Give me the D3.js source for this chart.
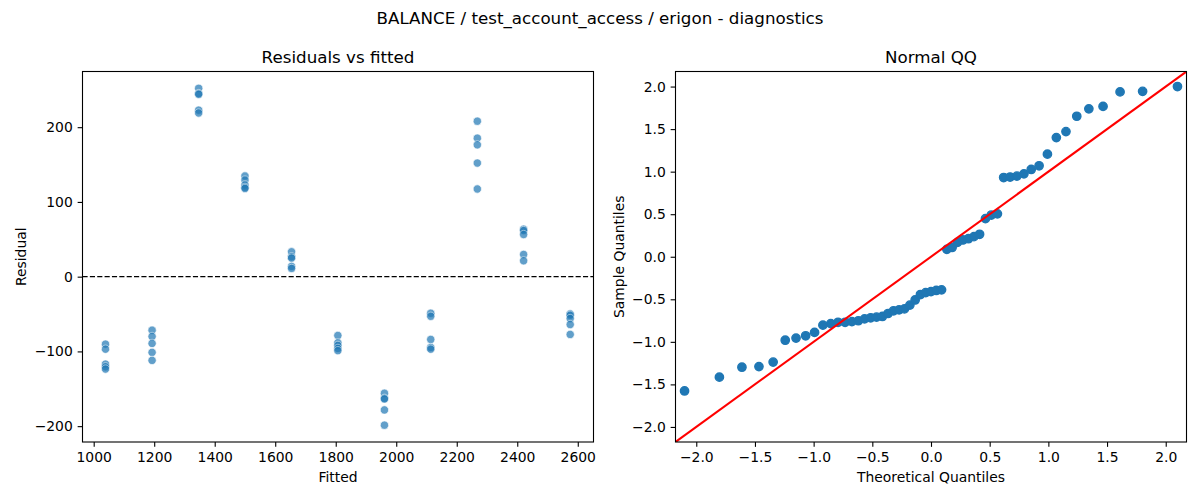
<!DOCTYPE html>
<html lang="en">
<head>
<meta charset="utf-8">
<title>BALANCE / test_account_access / erigon - diagnostics</title>
<script src="https://cdn.jsdelivr.net/npm/d3@7"></script>
<style>
  body { margin: 0; background: #fff; }
  svg { font-family: "DejaVu Sans", sans-serif; }
</style>
</head>
<body>
<svg width="1200" height="500"></svg>
<script>
// residuals vs fitted, 5 points per fitted level
var fitted = [
  1039, 1039, 1039, 1039, 1039,
  1193, 1193, 1193, 1193, 1193,
  1347, 1347, 1347, 1347, 1347,
  1500, 1500, 1500, 1500, 1500,
  1654, 1654, 1654, 1654, 1654,
  1807, 1807, 1807, 1807, 1807,
  1961, 1961, 1961, 1961, 1961,
  2114, 2114, 2114, 2114, 2114,
  2268, 2268, 2268, 2268, 2268,
  2421, 2421, 2421, 2421, 2421,
  2575, 2575, 2575, 2575, 2575
];
var residual = [
  -90.3, -97, -117, -120.5, -123.6,
  -71.6, -80, -89.3, -101.3, -112,
  252, 245, 244, 222.7, 219,
  134.7, 129.3, 122.7, 119.5, 118,
  33.3, 26.7, 24.8, 13.7, 11,
  -78.7, -88.5, -92, -96, -99,
  -156, -162.7, -163.6, -178.3, -198.7,
  -49, -53, -84, -94.7, -97,
  208, 185.3, 176.4, 152, 117.3,
  63.5, 61.7, 56.4, 29.7, 21.3,
  -49.9, -51.6, -56, -64, -77.3
];
var fittedTicks = [1000, 1200, 1400, 1600, 1800, 2000, 2200, 2400, 2600];
var residualTicks = [-200, -100, 0, 100, 200];

// normal QQ
var theoretical = [
  -2.100, -1.803, -1.611, -1.466, -1.345, -1.242, -1.150, -1.068, -0.992, -0.921,
  -0.854, -0.792, -0.732, -0.674, -0.619, -0.566, -0.514, -0.464, -0.414, -0.366,
  -0.319, -0.272, -0.226, -0.180, -0.135, -0.090, -0.045, 0, 0.045, 0.090,
  0.135, 0.180, 0.226, 0.272, 0.319, 0.366, 0.414, 0.464, 0.514, 0.566,
  0.619, 0.674, 0.732, 0.792, 0.854, 0.921, 0.992, 1.068, 1.150, 1.242,
  1.345, 1.466, 1.611, 1.803, 2.100
];
var sample = [
  -1.577, -1.415, -1.298, -1.291, -1.238, -0.981, -0.956, -0.929, -0.889, -0.804,
  -0.786, -0.770, -0.770, -0.762, -0.752, -0.730, -0.717, -0.709, -0.702, -0.667,
  -0.635, -0.625, -0.613, -0.568, -0.508, -0.444, -0.421, -0.410, -0.396, -0.389,
  0.087, 0.109, 0.169, 0.197, 0.212, 0.236, 0.264, 0.448, 0.490, 0.504,
  0.931, 0.937, 0.948, 0.974, 1.026, 1.069, 1.206, 1.400, 1.471, 1.651,
  1.738, 1.767, 1.937, 1.944, 2.000
];
var qqTicks = [-2, -1.5, -1, -0.5, 0, 0.5, 1, 1.5, 2];
var qqLimit = 2.177;

var svg = d3.select("svg");
svg.append("rect").attr("width", 1200).attr("height", 500).attr("fill", "#fff");

var fontTick = 13.9, fontTitle = 16.7;
var plotTop = 71.5, plotH = 370.5, plotW = 511;

svg.append("text")
  .attr("x", 600).attr("y", 23.5)
  .attr("text-anchor", "middle")
  .style("font-size", fontTitle + "px")
  .text("BALANCE / test_account_access / erigon - diagnostics");

function styleAxis(g) {
  g.attr("font-size", null).attr("font-family", null);
  g.select(".domain").remove();
  g.selectAll(".tick line").attr("stroke", "#000").attr("stroke-width", 1.1);
  g.selectAll(".tick text").attr("fill", "#000").style("font-size", fontTick + "px");
}

function panel(left, id, title, xLabel, yLabel, xScale, yScale, xTicks, yTicks, xFmt, yFmt, yLabelX) {
  var g = svg.append("g").attr("transform", "translate(" + left + "," + plotTop + ")");

  g.append("clipPath").attr("id", id)
    .append("rect").attr("width", plotW).attr("height", plotH);

  g.append("g")
    .attr("transform", "translate(0," + plotH + ")")
    .call(d3.axisBottom(xScale).tickValues(xTicks).tickFormat(xFmt)
      .tickSize(4.86).tickPadding(4.86).tickSizeOuter(0))
    .call(styleAxis);

  g.append("g")
    .call(d3.axisLeft(yScale).tickValues(yTicks).tickFormat(yFmt)
      .tickSize(4.86).tickPadding(4.86).tickSizeOuter(0))
    .call(styleAxis);

  g.append("text")
    .attr("x", plotW / 2).attr("y", -8.3)
    .attr("text-anchor", "middle")
    .style("font-size", fontTitle + "px")
    .text(title);

  g.append("text")
    .attr("x", plotW / 2).attr("y", 410.5)
    .attr("text-anchor", "middle")
    .style("font-size", fontTick + "px")
    .text(xLabel);

  g.append("text")
    .attr("transform", "translate(" + yLabelX + "," + (plotH / 2) + ") rotate(-90)")
    .attr("text-anchor", "middle")
    .style("font-size", fontTick + "px")
    .text(yLabel);

  var plot = g.append("g").attr("clip-path", "url(#" + id + ")");
  return {g: g, plot: plot};
}

// left panel: residuals vs fitted
var x1 = d3.scaleLinear().domain([963, 2652]).range([0, plotW]);
var y1 = d3.scaleLinear().domain([-221.2, 274.5]).range([plotH, 0]);
var p1 = panel(82.5, "clipA", "Residuals vs fitted", "Fitted", "Residual",
  x1, y1, fittedTicks, residualTicks, d3.format("d"), d3.format("d"), -56.5);

p1.plot.selectAll("circle")
  .data(fitted)
  .enter().append("circle")
  .attr("cx", function(d) { return x1(d); })
  .attr("cy", function(d, i) { return y1(residual[i]); })
  .attr("r", 4.17)
  .attr("fill", "#1f77b4")
  .attr("stroke", "#fff")
  .attr("stroke-width", 0.67)
  .attr("opacity", 0.7);

p1.plot.append("line")
  .attr("x1", 0).attr("x2", plotW)
  .attr("y1", y1(0)).attr("y2", y1(0))
  .attr("stroke", "#000")
  .attr("stroke-width", 1.39)
  .attr("stroke-dasharray", "5.14,2.22");

p1.g.append("rect").attr("width", plotW).attr("height", plotH)
  .attr("fill", "none").attr("stroke", "#000").attr("stroke-width", 1.1);

// right panel: normal QQ
var x2 = d3.scaleLinear().domain([-qqLimit, qqLimit]).range([0, plotW]);
var y2 = d3.scaleLinear().domain([-qqLimit, qqLimit]).range([plotH, 0]);
var p2 = panel(675.5, "clipB", "Normal QQ", "Theoretical Quantiles", "Sample Quantiles",
  x2, y2, qqTicks, qqTicks, d3.format(".1f"), d3.format(".1f"), -51.5);

p2.plot.selectAll("circle")
  .data(theoretical)
  .enter().append("circle")
  .attr("cx", function(d) { return x2(d); })
  .attr("cy", function(d, i) { return y2(sample[i]); })
  .attr("r", 4.17)
  .attr("fill", "#1f77b4")
  .attr("stroke", "#1f77b4")
  .attr("stroke-width", 1.39);

p2.plot.append("line")
  .attr("x1", x2(-qqLimit)).attr("y1", y2(-qqLimit))
  .attr("x2", x2(qqLimit)).attr("y2", y2(qqLimit))
  .attr("stroke", "#ff0000")
  .attr("stroke-width", 2.08);

p2.g.append("rect").attr("width", plotW).attr("height", plotH)
  .attr("fill", "none").attr("stroke", "#000").attr("stroke-width", 1.1);
</script>
</body>
</html>
